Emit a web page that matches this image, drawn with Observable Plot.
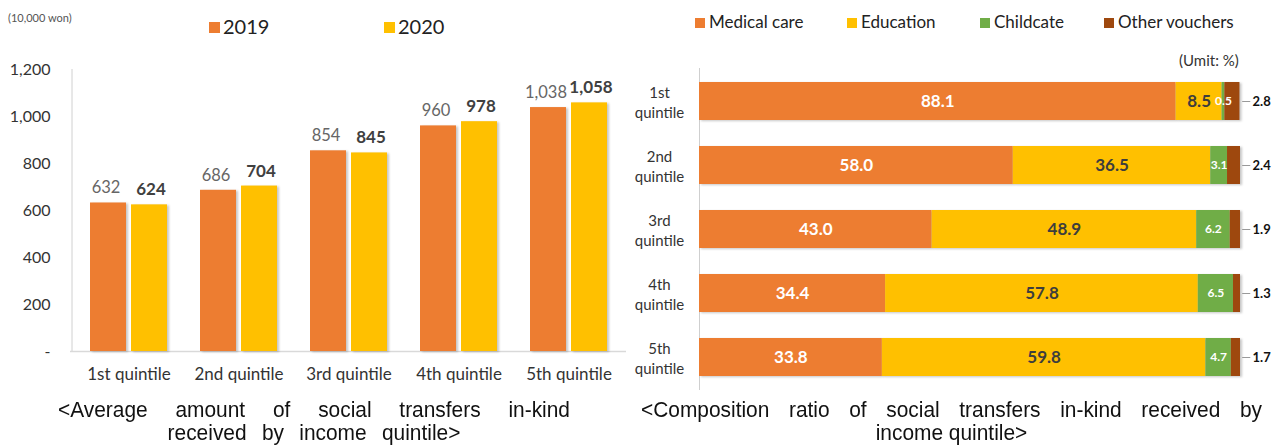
<!DOCTYPE html>
<html><head><meta charset="utf-8">
<script src="https://cdn.jsdelivr.net/npm/d3@7"></script>
<script src="https://cdn.jsdelivr.net/npm/@observablehq/plot@0.6"></script>
<style>
body{margin:0;background:#fff;}
#root{position:relative;width:1276px;height:445px;overflow:hidden;font-family:Lato,"Open Sans",sans-serif;color:#222;}
.abs{position:absolute;white-space:nowrap;}
.sw{position:absolute;width:10px;height:10px;}
.cap{position:absolute;font-family:"Liberation Sans",Arial,sans-serif;font-size:22px;color:#111;line-height:22px;white-space:nowrap;transform:scaleX(0.95);transform-origin:0 0;}
.plotbox{position:absolute;top:0;}
</style></head><body><div id="root"></div>
<script>
// ---- data ----
const quintiles = ["1st quintile","2nd quintile","3rd quintile","4th quintile","5th quintile"];
const years = ["2019","2020"];
const amount2019 = [632,686,854,960,1038];
const amount2020 = [624,704,845,978,1058];
const yTicks = [0,200,400,600,800,1000,1200];
const rowLabels = ["1st\nquintile","2nd\nquintile","3rd\nquintile","4th\nquintile","5th\nquintile"];
const categories = ["Medical care","Education","Childcate","Other vouchers"];
const medical = [88.1,58.0,43.0,34.4,33.8];
const education = [8.5,36.5,48.9,57.8,59.8];
const childcare = [0.5,3.1,6.2,6.5,4.7];
const other = [2.8,2.4,1.9,1.3,1.7];

const yearColors = ["#ED7D31","#FFC000"];
const catColors = ["#ED7D31","#FFC000","#70AD47","#9E480E"];
const font = "Lato, 'Open Sans', sans-serif";

const root = document.getElementById("root");
function add(html){ root.insertAdjacentHTML("beforeend", html); }

// ---- left chart ----
const amt = quintiles.flatMap((q,i)=>[{q, year:years[0], v:amount2019[i]},{q, year:years[1], v:amount2020[i]}]);
const a19 = amt.filter(d=>d.year===years[0]);
const a20 = amt.filter(d=>d.year===years[1]);
const left = Plot.plot({
  width:640, height:395, marginLeft:70, marginRight:14, marginTop:69, marginBottom:44,
  style:{fontFamily:font, background:"transparent", color:"#333"},
  x:{domain:quintiles, paddingInner:0.3, paddingOuter:0.167, label:null},
  y:{domain:[0,1200], label:null},
  marks:[
    Plot.ruleY([0], {stroke:"#d9d9d9", strokeWidth:1.5}),
    Plot.ruleX([quintiles[0]], {x:d=>d, y1:0, y2:1200, dx:-57, stroke:"#d0d0d0"}),
    Plot.barY(a19, {x:"q", y:"v", fill:yearColors[0], insetRight:41}),
    Plot.barY(a20, {x:"q", y:"v", fill:yearColors[1], insetLeft:41}),
    Plot.text(a19, {x:"q", y:"v", text:d=>d3.format(",")(d.v), dx:-23, dy:-15, fill:"#666", fontSize:16.5}),
    Plot.text(a20, {x:"q", y:"v", text:d=>d3.format(",")(d.v), dx:22, dy:-15, fill:"#404040", fontSize:17, fontWeight:"bold"}),
    Plot.axisY({ticks:yTicks, tickSize:0, tickPadding:20, tickFormat:d=>d===0?"-":d3.format(",")(d), fontSize:16, label:null}),
    Plot.axisX({tickSize:0, tickPadding:16, fontSize:17, label:null})
  ]
});
left.classList.add("plotbox"); left.style.left="0px";
root.appendChild(left);

// ---- right chart ----
const series = [medical, education, childcare, other];
const comp = quintiles.flatMap((q,i)=>categories.map((c,j)=>({q, cat:c, v:series[j][i]})));
const otherRows = quintiles.map((q,i)=>({q, v:other[i]}));
const lbl = (cat)=>d=>d.cat===cat ? d.v.toFixed(1) : "";
const right = Plot.plot({
  width:676, height:395, marginLeft:99, marginRight:36, marginTop:68, marginBottom:5,
  style:{fontFamily:font, background:"transparent"},
  x:{domain:[0,100], axis:null},
  y:{domain:quintiles, paddingInner:0.4, paddingOuter:0.214, axis:null},
  color:{domain:categories, range:catColors},
  marks:[
    Plot.ruleX([0], {stroke:"#cfcfcf"}),
    Plot.barX(comp, Plot.stackX({x:"v", y:"q", fill:"cat"})),
    Plot.text(comp, Plot.stackX({x:"v", y:"q", text:lbl(categories[0]), fill:"white", fontSize:17, fontWeight:"bold"})),
    Plot.text(comp, Plot.stackX({x:"v", y:"q", text:lbl(categories[1]), fill:"#3d3d3d", fontSize:17, fontWeight:"bold"})),
    Plot.text(comp, Plot.stackX({x:"v", y:"q", text:lbl(categories[2]), fill:"white", fontSize:12, fontWeight:"bold"})),
    Plot.ruleY(otherRows, {y:"q", x1:100.4, x2:101.9, stroke:"#999"}),
    Plot.text(otherRows, {y:"q", text:d=>d.v.toFixed(1), frameAnchor:"right", dx:12, textAnchor:"start", fill:"#111", fontSize:13, fontWeight:"bold"}),
    Plot.text(quintiles, {y:d=>d, text:(d,i)=>rowLabels[i], frameAnchor:"left", dx:-40, textAnchor:"middle", lineHeight:1.33, fontSize:15, fill:"#333"})
  ]
});
right.classList.add("plotbox"); right.style.left="600px";
root.appendChild(right);

// subtle bar shadows
[left,right].forEach(s=>d3.select(s).selectAll("g[aria-label=bar] rect").style("filter","drop-shadow(2px 1.5px 1px rgba(0,0,0,0.22))"));

// ---- legends & notes ----
add(`<div class="abs" style="left:8px;top:11px;font-size:11px;color:#555;">(10,000 won)</div>`);
add(`<div class="sw" style="left:209px;top:22px;width:11px;height:11px;background:${yearColors[0]}"></div><div class="abs" style="left:223px;top:14px;font-size:20px;color:#222;">${years[0]}</div>`);
add(`<div class="sw" style="left:384px;top:22px;width:11px;height:11px;background:${yearColors[1]}"></div><div class="abs" style="left:398px;top:14px;font-size:20px;color:#222;">${years[1]}</div>`);
const legX = [695, 847, 980, 1104];
categories.forEach((c,i)=>add(`<div class="sw" style="left:${legX[i]}px;top:18px;background:${catColors[i]}"></div><div class="abs" style="left:${legX[i]+14}px;top:11px;font-size:17px;color:#222;">${c}</div>`));
add(`<div class="abs" style="left:1179px;top:51px;font-size:15px;color:#333;">(Umit: %)</div>`);

// ---- captions (slightly condensed via scaleX; widths divided accordingly) ----
const k = 0.95;
add(`<div class="cap" style="left:58px;top:399px;width:${512/k}px;text-align:justify;text-align-last:justify;">&lt;Average amount of social transfers in-kind</div>`);
add(`<div class="cap" style="left:58px;top:422px;width:${512/k}px;text-align:center;word-spacing:10px;">received by income quintile&gt;</div>`);
add(`<div class="cap" style="left:641px;top:399px;width:${621/k}px;text-align:justify;text-align-last:justify;">&lt;Composition ratio of social transfers in-kind received by</div>`);
add(`<div class="cap" style="left:641px;top:422px;width:${621/k}px;text-align:center;">income quintile&gt;</div>`);
</script></body></html>
